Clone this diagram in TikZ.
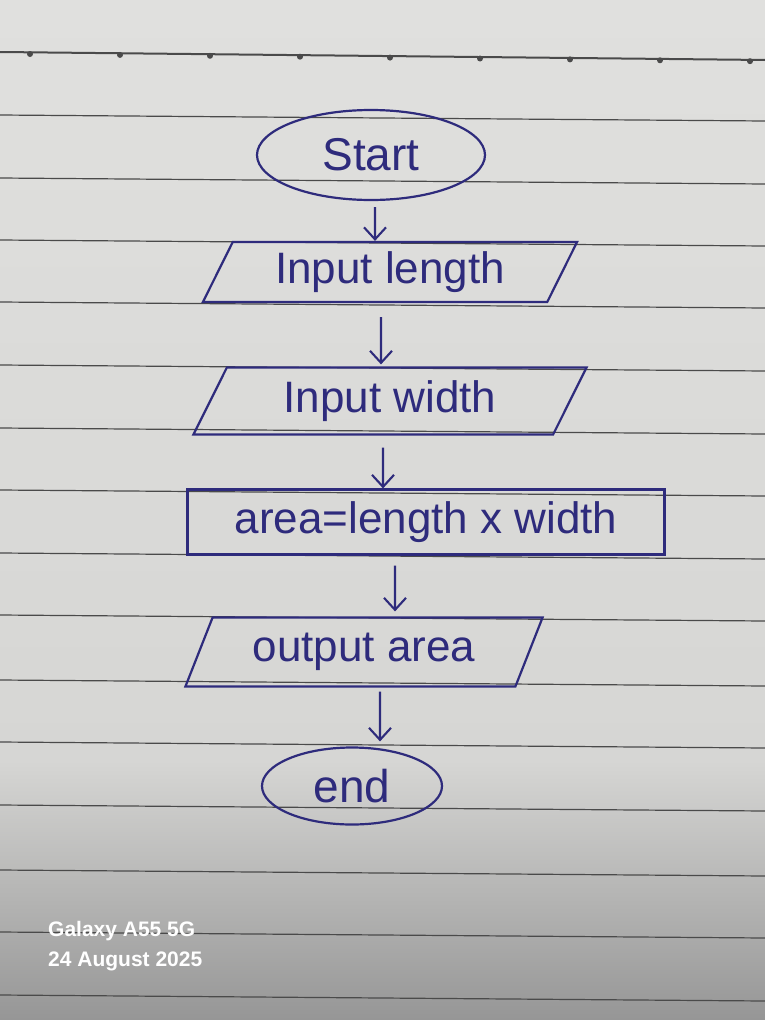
\documentclass[tikz,border=0pt]{standalone}
\usepackage{fontspec}
\setmainfont{Liberation Sans}
\usetikzlibrary{shapes.geometric,arrows.meta}
\definecolor{ink}{HTML}{2E2B7C}
\definecolor{rule}{HTML}{4A4A4A}
\definecolor{paperA}{RGB}{224,224,222}
\definecolor{paperB}{RGB}{214,214,212}
\definecolor{paperC}{RGB}{150,150,150}
\tikzset{
  inkline/.style={draw=ink,line width=2.2pt},
  terminal/.style={inkline,ellipse,inner sep=0pt,text=ink,font=\fontsize{46}{50}\selectfont},
  iobox/.style={inkline,trapezium,trapezium left angle=62,trapezium right angle=118,
    trapezium stretches=true,inner sep=0pt,text=ink,font=\fontsize{44}{48}\selectfont},
  procbox/.style={inkline,rectangle,inner sep=0pt,text=ink,font=\fontsize{44}{48}\selectfont},
  flow/.style={draw=ink,line width=2.1pt,-{Straight Barb[length=12pt,width=22pt,line width=2.1pt]}},
  ruling/.style={draw=rule,line width=1.2pt},
  stamp/.style={text=white,font=\bfseries\fontsize{21}{23}\selectfont,anchor=base west,inner sep=0pt}
}
\begin{document}
\begin{tikzpicture}[x=1pt,y=-1pt]
\useasboundingbox (0,0) rectangle (765,1020);
% paper
\shade[top color=paperA,bottom color=paperB] (0,0) rectangle (765,760.5);
\shade[top color=paperB,bottom color=paperC] (0,760) rectangle (765,1020);
% ruled lines
\draw[ruling,line width=2pt] (0,52) -- (765,60);
\foreach \i in {0,...,8}{\fill[rule] (30+\i*90,54+\i*0.9) circle (3);}
\foreach \y in {115,178,240,302,365,428,490,553,615,680,742,805,870,932,995}{
  \draw[ruling] (0,\y) -- (765,\y+6);
}
% nodes
\node[terminal,minimum width=228pt,minimum height=90pt] (start) at (371,155) {Start};
\node[iobox,minimum width=375pt,minimum height=60pt] (in1) at (390,272) {Input length};
\node[iobox,minimum width=394pt,minimum height=67pt] (in2) at (390,401) {Input width};
\node[procbox,minimum width=477pt,minimum height=65pt] (calc) at (426,522) {area=length x width};
\node[iobox,minimum width=358pt,minimum height=69pt] (out) at (364,652) {output area};
\node[terminal,minimum width=180pt,minimum height=77pt] (end) at (352,786) {end};
% connectors
\draw[flow,shorten <=6pt] ([xshift=4pt]start.south) -- ([xshift=-15pt]in1.north);
\draw[flow,shorten <=14pt,shorten >=2pt] ([xshift=-9pt]in1.south) -- ([xshift=-9pt]in2.north);
\draw[flow,shorten <=12pt] ([xshift=-7pt]in2.south) -- ([xshift=-43pt]calc.north);
\draw[flow,shorten <=10pt,shorten >=5pt] ([xshift=-31pt]calc.south) -- ([xshift=31pt]out.north);
\draw[flow,shorten <=4pt,shorten >=5pt] ([xshift=16pt]out.south) -- ([xshift=28pt]end.north);
% camera stamp
\node[stamp] (cam) at (48,936) {Galaxy A55 5G};
\node[stamp] (date) at (48,966) {24 August 2025};
\end{tikzpicture}
\end{document}
